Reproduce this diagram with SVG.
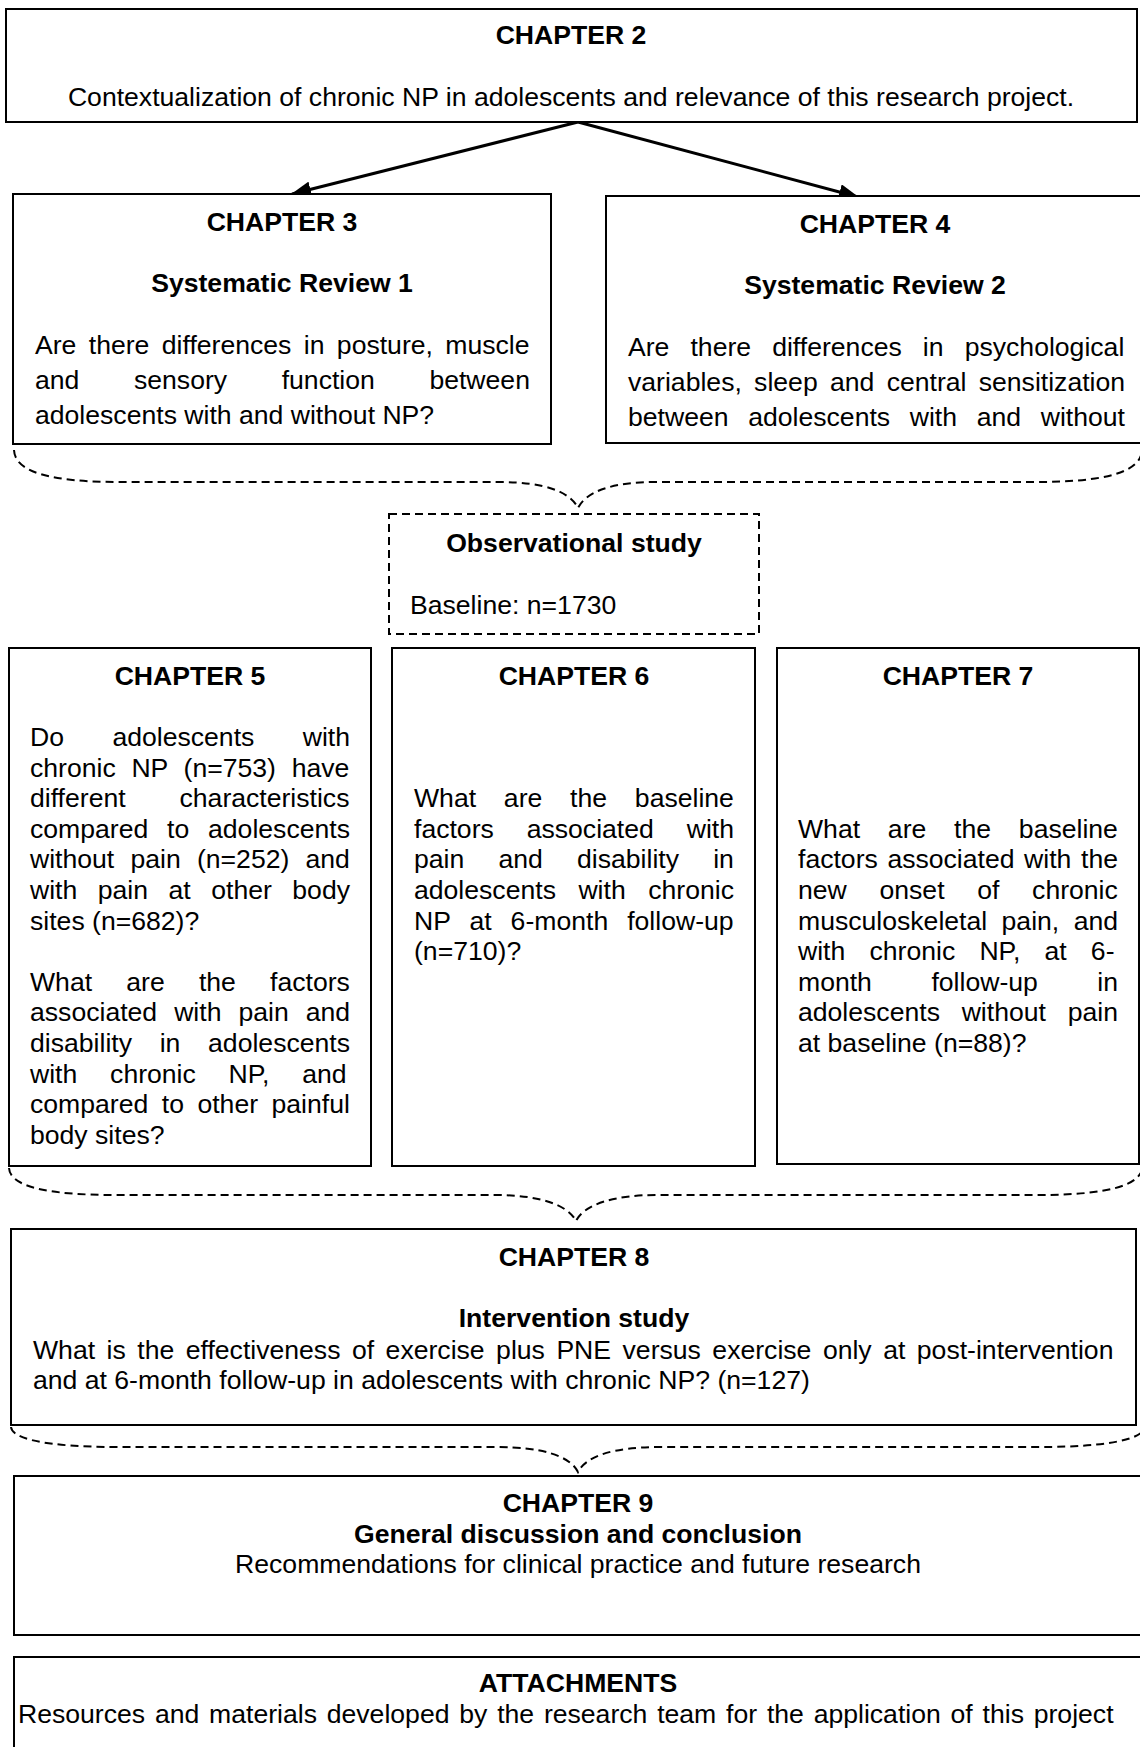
<svg xmlns="http://www.w3.org/2000/svg" width="1140" height="1747" viewBox="0 0 1140 1747">
<defs>
<style>
text{font-family:"Liberation Sans",Arial,sans-serif;font-size:26.6px;fill:#000}
.b{font-weight:bold}
.c{text-anchor:middle}
.box{fill:#fff;stroke:#000;stroke-width:2}
.dbox{fill:#fff;stroke:#000;stroke-width:2;stroke-dasharray:8 5}
.brace{fill:none;stroke:#000;stroke-width:2;stroke-dasharray:8 5}
.arrow{fill:none;stroke:#000;stroke-width:3}
</style>
<marker id="ah" viewBox="0 0 20 16" refX="19" refY="8" markerWidth="20" markerHeight="16" markerUnits="userSpaceOnUse" orient="auto">
<path d="M0,0 L20,8 L0,16 Z" fill="#000"/>
</marker>
</defs>
<rect width="1140" height="1747" fill="#fff"/>

<g id="connectors">
<line class="arrow" x1="578" y1="122" x2="292" y2="194" marker-end="url(#ah)"/>
<line class="arrow" x1="578" y1="122" x2="858" y2="197" marker-end="url(#ah)"/>
<path class="brace" d="M14,450 C15,472 50,482 120,482 L500,482 C545,482 570,492 578,508 C586,492 611,482 656,482 L1036,482 C1106,482 1141,472 1142,450"/>
<path class="brace" d="M9,1168 C10,1186 45,1195 115,1195 L495,1195 C540,1195 568,1205 576,1221 C584,1205 612,1195 657,1195 L1037,1195 C1107,1195 1141,1186 1143,1166"/>
<path class="brace" d="M11,1427 C12,1439 47,1447 117,1447 L497,1447 C542,1447 570,1456 578,1472 C586,1456 614,1447 659,1447 L1039,1447 C1109,1447 1143,1439 1145,1427"/>
</g>

<g id="chapter2">
<rect class="box" x="6" y="9" width="1131" height="113"/>
<text class="b c" x="571" y="44">CHAPTER 2</text>
<text class="c" x="571" y="106">Contextualization of chronic NP in adolescents and relevance of this research project.</text>
</g>

<g id="chapter3">
<rect class="box" x="13" y="194" width="538" height="250"/>
<text class="b c" x="282" y="231">CHAPTER 3</text>
<text class="b c" x="282" y="292">Systematic Review 1</text>
<text x="35" y="354" word-spacing="5">Are there differences in posture, muscle</text>
<text x="35" y="389" word-spacing="47.2">and sensory function between</text>
<text x="35" y="424">adolescents with and without NP?</text>
</g>

<g id="chapter4">
<rect class="box" x="606" y="196" width="545" height="247"/>
<text class="b c" x="875" y="233">CHAPTER 4</text>
<text class="b c" x="875" y="294">Systematic Review 2</text>
<text x="628" y="356" word-spacing="13.7">Are there differences in psychological</text>
<text x="628" y="391" word-spacing="4.9">variables, sleep and central sensitization</text>
<text x="628" y="426" word-spacing="12.25">between adolescents with and without</text>
</g>

<g id="observational">
<rect class="dbox" x="389" y="514" width="370" height="120"/>
<text class="b c" x="574" y="552">Observational study</text>
<text x="410" y="614">Baseline: n=1730</text>
</g>

<g id="chapter5">
<rect class="box" x="9" y="648" width="362" height="518"/>
<text class="b c" x="190" y="685">CHAPTER 5</text>
<text x="30" y="746" word-spacing="41">Do adolescents with</text>
<text x="30" y="776.6" word-spacing="8.3">chronic NP (n=753) have</text>
<text x="30" y="807.2" word-spacing="46.5">different characteristics</text>
<text x="30" y="837.8" word-spacing="11.4">compared to adolescents</text>
<text x="30" y="868.4" word-spacing="8.8">without pain (n=252) and</text>
<text x="30" y="899" word-spacing="13.1">with pain at other body</text>
<text x="30" y="929.6">sites (n=682)?</text>
<text x="30" y="990.8" word-spacing="26.8">What are the factors</text>
<text x="30" y="1021.4" word-spacing="9.6">associated with pain and</text>
<text x="30" y="1052" word-spacing="20.3">disability in adolescents</text>
<text x="30" y="1082.6" word-spacing="25.4">with chronic NP, and</text>
<text x="30" y="1113.2" word-spacing="6.1">compared to other painful</text>
<text x="30" y="1143.8">body sites?</text>
</g>

<g id="chapter6">
<rect class="box" x="392" y="648" width="363" height="518"/>
<text class="b c" x="574" y="685">CHAPTER 6</text>
<text x="414" y="807.2" word-spacing="20.4">What are the baseline</text>
<text x="414" y="837.8" word-spacing="25.5">factors associated with</text>
<text x="414" y="868.4" word-spacing="26.8">pain and disability in</text>
<text x="414" y="899" word-spacing="15.1">adolescents with chronic</text>
<text x="414" y="929.6" word-spacing="11.6">NP at 6-month follow-up</text>
<text x="414" y="960.2">(n=710)?</text>
</g>

<g id="chapter7">
<rect class="box" x="777" y="648" width="362" height="516"/>
<text class="b c" x="958" y="685">CHAPTER 7</text>
<text x="798" y="837.8" word-spacing="20.4">What are the baseline</text>
<text x="798" y="868.4" word-spacing="2.2">factors associated with the</text>
<text x="798" y="899" word-spacing="25.3">new onset of chronic</text>
<text x="798" y="929.6" word-spacing="7">musculoskeletal pain, and</text>
<text x="798" y="960.2" word-spacing="16.8">with chronic NP, at 6-</text>
<text x="798" y="990.8" word-spacing="52.1">month follow-up in</text>
<text x="798" y="1021.4" word-spacing="14.35">adolescents without pain</text>
<text x="798" y="1052">at baseline (n=88)?</text>
</g>

<g id="chapter8">
<rect class="box" x="11" y="1229" width="1125" height="196"/>
<text class="b c" x="574" y="1266">CHAPTER 8</text>
<text class="b c" x="574" y="1327">Intervention study</text>
<text x="33" y="1359" word-spacing="4.1">What is the effectiveness of exercise plus PNE versus exercise only at post-intervention</text>
<text x="33" y="1389">and at 6-month follow-up in adolescents with chronic NP? (n=127)</text>
</g>

<g id="chapter9">
<rect class="box" x="14" y="1476" width="1128" height="159"/>
<text class="b c" x="578" y="1512">CHAPTER 9</text>
<text class="b c" x="578" y="1543">General discussion and conclusion</text>
<text class="c" x="578" y="1573">Recommendations for clinical practice and future research</text>
</g>

<g id="attachments">
<rect class="box" x="14" y="1657" width="1128" height="100"/>
<text class="b c" x="578" y="1692">ATTACHMENTS</text>
<text x="18" y="1723" word-spacing="2.4">Resources and materials developed by the research team for the application of this project</text>
</g>
</svg>
